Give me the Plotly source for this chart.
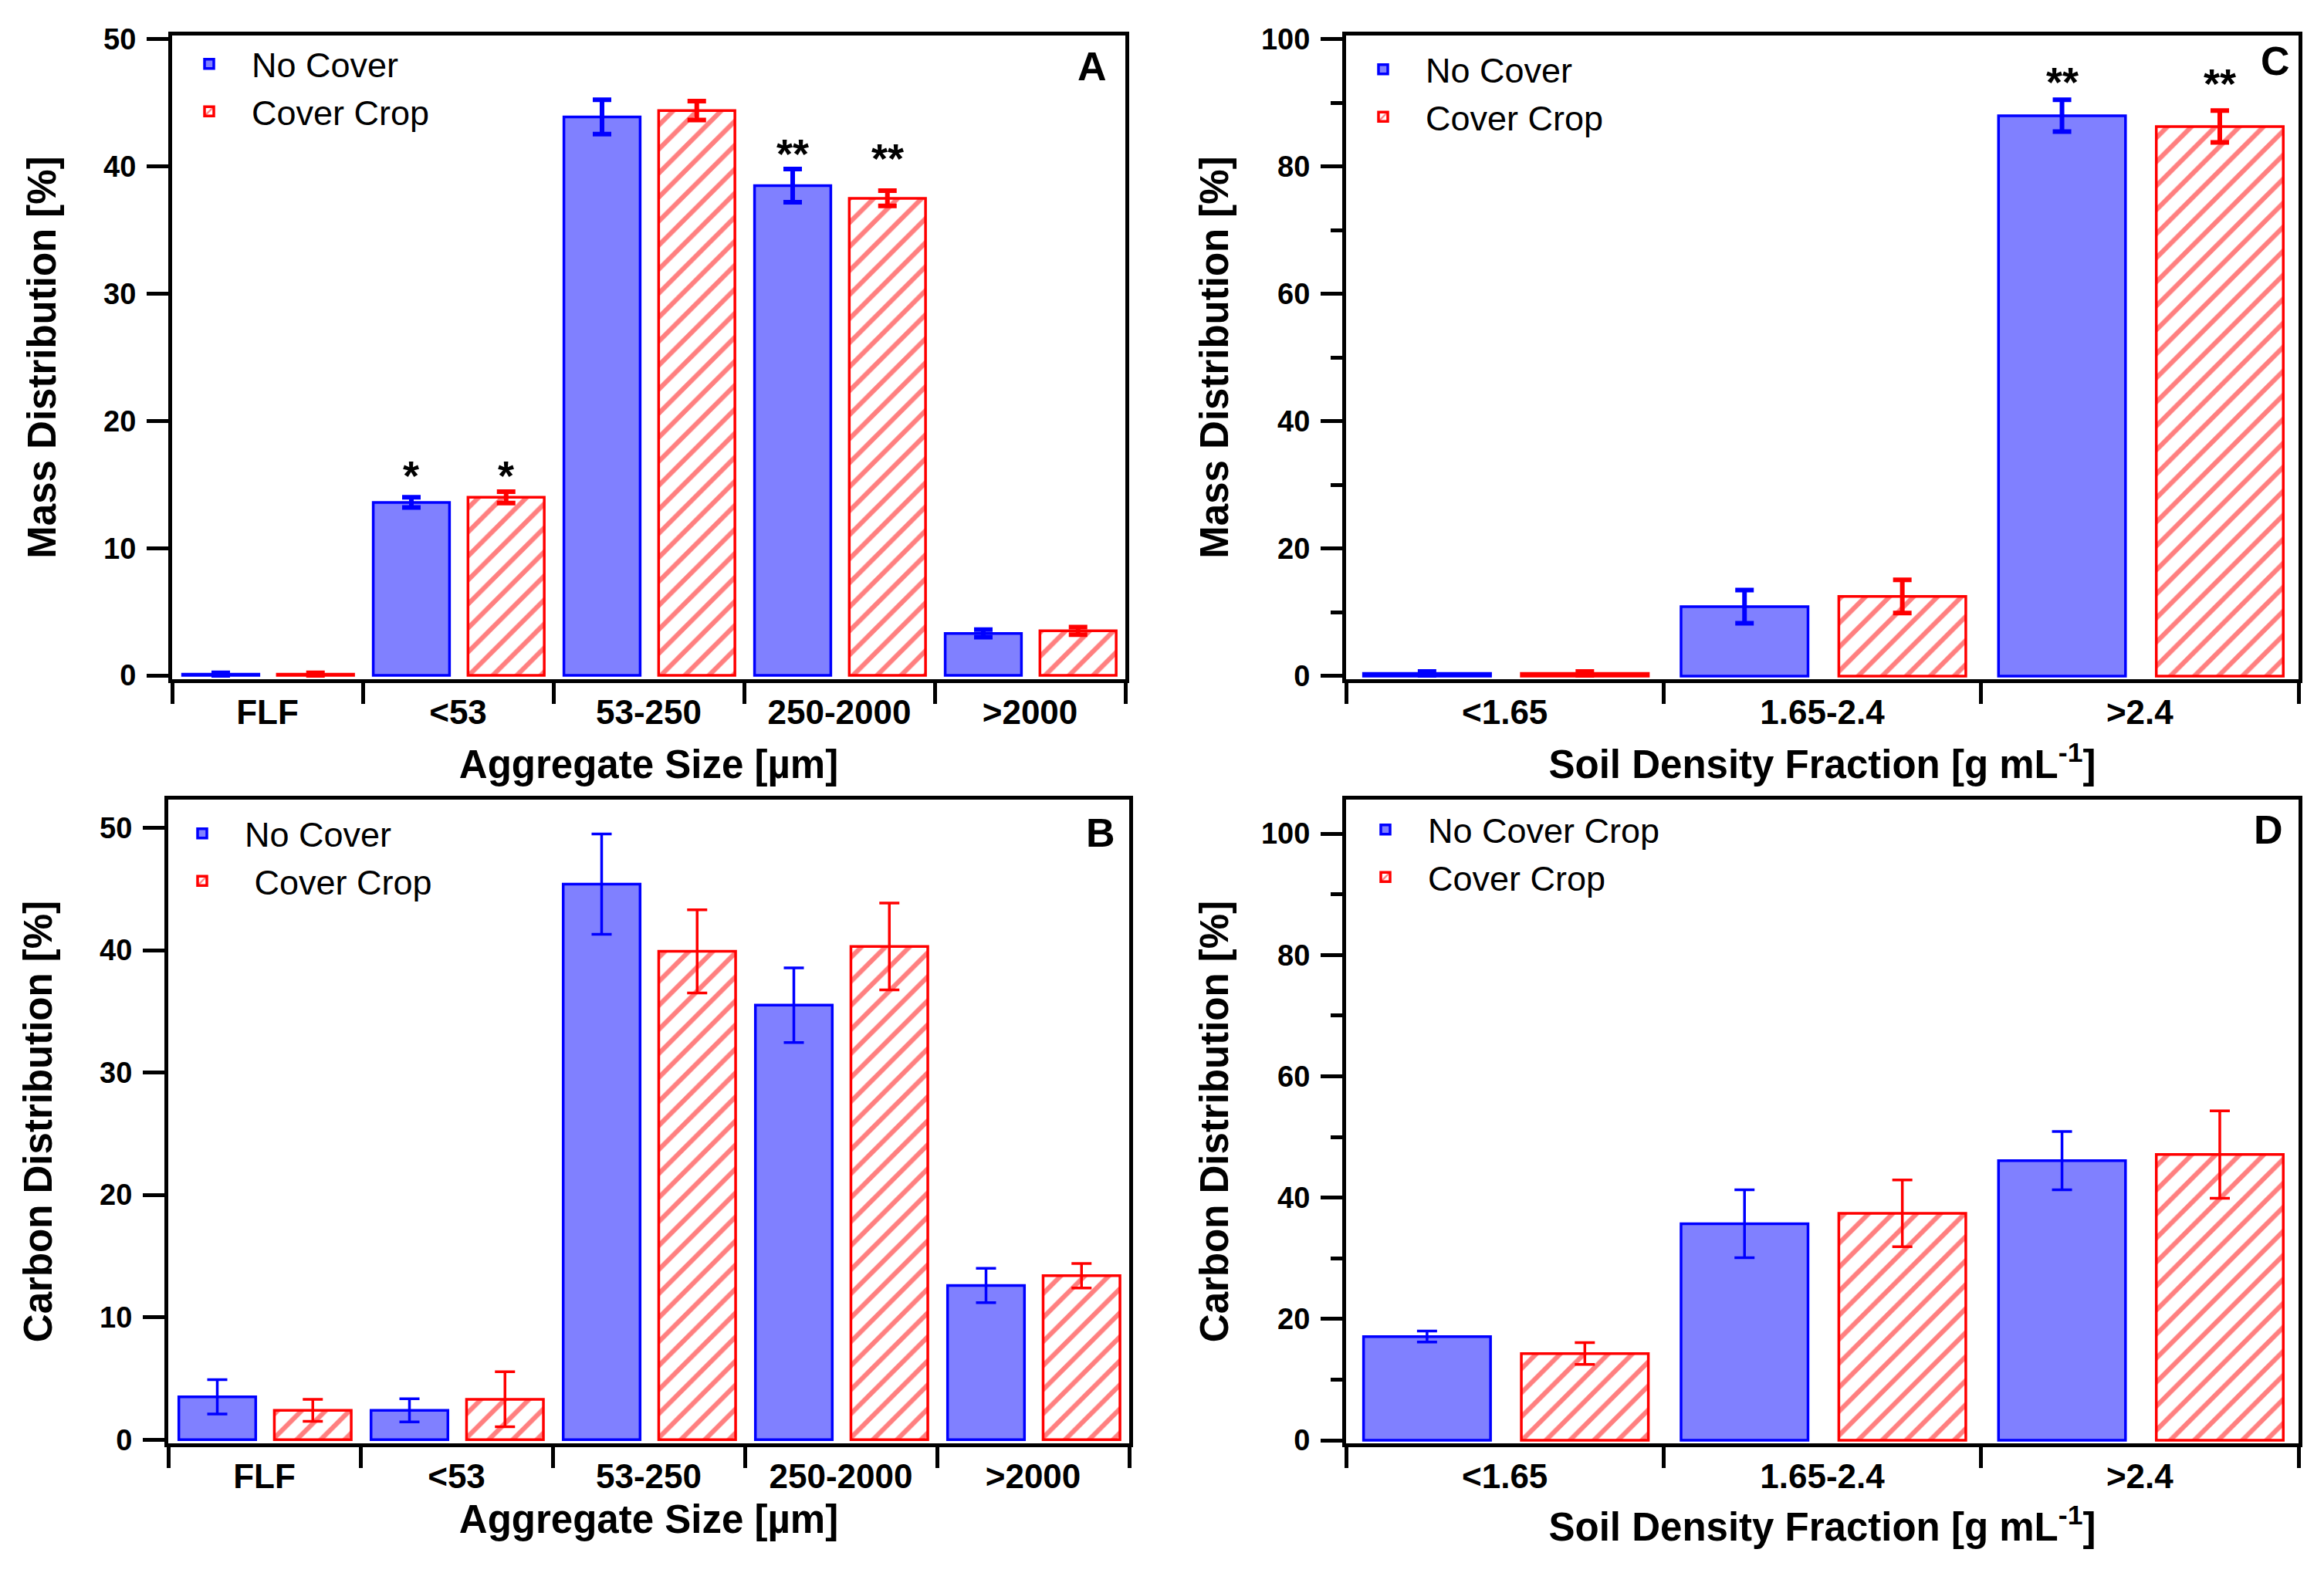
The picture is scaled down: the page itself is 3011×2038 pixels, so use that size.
import plotly.graph_objects as go

# ---------------- data ----------------
agg_sizes = ["FLF", "<53", "53-250", "250-2000", ">2000"]
density_fr = ["<1.65", "1.65-2.4", ">2.4"]

# Panel A: mass distribution by aggregate size [%]
mass_agg_nc = [0.1, 13.6, 43.9, 38.5, 3.3]
mass_agg_nc_err = [0.1, 0.4, 1.35, 1.3, 0.3]
mass_agg_cc = [0.1, 14.0, 44.4, 37.5, 3.5]
mass_agg_cc_err = [0.1, 0.45, 0.75, 0.6, 0.3]

# Panel B: carbon distribution by aggregate size [%]
carb_agg_nc = [3.5, 2.4, 45.4, 35.5, 12.6]
carb_agg_nc_err = [1.4, 0.95, 4.1, 3.05, 1.4]
carb_agg_cc = [2.4, 3.3, 39.9, 40.3, 13.4]
carb_agg_cc_err = [0.9, 2.25, 3.4, 3.55, 1.0]

# Panel C: mass distribution by soil density fraction [%]
mass_den_nc = [0.4, 10.9, 88.0]
mass_den_nc_err = [0.3, 2.6, 2.5]
mass_den_cc = [0.4, 12.5, 86.3]
mass_den_cc_err = [0.3, 2.6, 2.5]

# Panel D: carbon distribution by soil density fraction [%]
carb_den_nc = [17.1, 35.7, 46.1]
carb_den_nc_err = [0.9, 5.6, 4.8]
carb_den_cc = [14.3, 37.4, 47.1]
carb_den_cc_err = [1.8, 5.5, 7.2]

# significance markers: (category, series, label, y)
sig_A = [("<53", "nc", "*", 16.1), ("<53", "cc", "*", 16.1),
         ("250-2000", "nc", "**", 41.4), ("250-2000", "cc", "**", 41.0)]
sig_C = [(">2.4", "nc", "**", 94.1), (">2.4", "cc", "**", 93.8)]

# ---------------- style ----------------
BLUE_FILL = "#8080FF"
BLUE = "#0000FF"
RED = "#FF0000"
FONT = "Liberation Sans, Arial, sans-serif"
OFF_NC, OFF_CC, BAR_W = -0.445, 0.052, 0.40

fig = go.Figure()


def add_pair(cats, nc, nc_err, cc, cc_err, xa, ya, legend, names, thick, capw):
    fig.add_trace(go.Bar(
        x=cats, y=nc, name=names[0], xaxis=xa, yaxis=ya, legend=legend,
        offset=OFF_NC, width=BAR_W,
        marker=dict(color=BLUE_FILL, line=dict(color=BLUE, width=3.5)),
        error_y=dict(type="data", array=nc_err, visible=True, color=BLUE,
                     thickness=thick, width=capw),
    ))
    fig.add_trace(go.Bar(
        x=cats, y=cc, name=names[1], xaxis=xa, yaxis=ya, legend=legend,
        offset=OFF_CC, width=BAR_W,
        marker=dict(color="white", line=dict(color=RED, width=3.5),
                    pattern=dict(shape="/", fgcolor=RED, bgcolor="white",
                                 size=22, solidity=0.28)),
        error_y=dict(type="data", array=cc_err, visible=True, color=RED,
                     thickness=thick, width=capw),
    ))


add_pair(agg_sizes, mass_agg_nc, mass_agg_nc_err, mass_agg_cc, mass_agg_cc_err,
         "x", "y", "legend", ["No Cover", "Cover Crop"], 6, 12)
add_pair(density_fr, mass_den_nc, mass_den_nc_err, mass_den_cc, mass_den_cc_err,
         "x2", "y2", "legend2", ["No Cover", "Cover Crop"], 6, 12)
add_pair(agg_sizes, carb_agg_nc, carb_agg_nc_err, carb_agg_cc, carb_agg_cc_err,
         "x3", "y3", "legend3", ["No Cover", "\u00a0Cover Crop"], 3.5, 13)
add_pair(density_fr, carb_den_nc, carb_den_nc_err, carb_den_cc, carb_den_cc_err,
         "x4", "y4", "legend4", ["No Cover Crop", "Cover Crop"], 3.5, 13)

# page is 3011x2038; the html body adds an 8 px margin, so the figure is
# made 8 px smaller and all page positions are converted to figure positions
PAGE_W, PAGE_H, BODY = 3011, 2038, 8
W, H = PAGE_W - BODY, PAGE_H - BODY


def px_x(p):
    return (p - BODY) / W


def px_y(p):
    return 1 - (p - BODY) / H


def dom_x(a, b):
    return [px_x(a), px_x(b)]


def dom_y(top, bottom):
    return [px_y(bottom), px_y(top)]


def xaxis_cfg(domain, anchor, cats, title, standoff):
    return dict(
        domain=domain, anchor=anchor, type="category",
        categoryorder="array", categoryarray=cats,
        range=[-0.5, len(cats) - 0.5], tickson="boundaries",
        ticks="outside", ticklen=27, tickwidth=5, tickcolor="black",
        showline=True, linewidth=5, linecolor="black", mirror=True,
        showgrid=False, zeroline=False, automargin=False,
        tickfont=dict(family=FONT, size=44, color="black", weight="bold"),
        title=dict(text=title, standoff=standoff,
                   font=dict(family=FONT, size=51, color="black", weight="bold")),
    )


def yaxis_cfg(domain, anchor, rng, dtick, title, standoff, minor):
    cfg = dict(
        domain=domain, anchor=anchor, range=rng, tick0=0, dtick=dtick,
        ticks="outside", ticklen=28, tickwidth=5, tickcolor="black",
        showline=True, linewidth=5, linecolor="black", mirror=True,
        showgrid=False, zeroline=False, automargin=False,
        ticklabelstandoff=6,
        tickfont=dict(family=FONT, size=38, color="black", weight="bold"),
        title=dict(text=title, standoff=standoff,
                   font=dict(family=FONT, size=51, color="black", weight="bold")),
    )
    if minor:
        cfg["minor"] = dict(dtick=minor, ticks="outside", ticklen=15,
                            tickwidth=5, tickcolor="black", showgrid=False)
    return cfg


size_title = "Aggregate Size [µm]"
dens_title = "Soil Density Fraction [g mL<sup>-1</sup>]"

fig.update_layout(
    xaxis=xaxis_cfg(dom_x(223, 1458), "y", agg_sizes, size_title, 28),
    yaxis=yaxis_cfg(dom_y(46, 880), "x", [-0.3, 50.3], 10,
                    "Mass Distribution [%]", 47, None),
    xaxis2=xaxis_cfg(dom_x(1744, 2978), "y2", density_fr, dens_title, 28),
    yaxis2=yaxis_cfg(dom_y(46, 880), "x2", [-0.5, 100.6], 20,
                     "Mass Distribution [%]", 28, 10),
    xaxis3=xaxis_cfg(dom_x(218, 1463), "y3", agg_sizes, size_title, 16),
    yaxis3=yaxis_cfg(dom_y(1036, 1870), "x3", [-0.3, 52.3], 10,
                     "Carbon Distribution [%]", 47, None),
    xaxis4=xaxis_cfg(dom_x(1744, 2978), "y4", density_fr, dens_title, 26),
    yaxis4=yaxis_cfg(dom_y(1036, 1870), "x4", [-0.5, 105.6], 20,
                     "Carbon Distribution [%]", 28, 10),
)

leg_common = dict(bgcolor="rgba(0,0,0,0)", borderwidth=0, itemwidth=100,
                  xanchor="left", yanchor="top", tracegroupgap=0,
                  font=dict(family=FONT, size=45, color="black"))
fig.update_layout(
    legend=dict(x=px_x(216), y=px_y(47), **leg_common),
    legend2=dict(x=px_x(1737), y=px_y(54), **leg_common),
    legend3=dict(x=px_x(207), y=px_y(1044), **leg_common),
    legend4=dict(x=px_x(1740), y=px_y(1039), **leg_common),
)

# panel letters
letters = [("A", "x", "y", 0.965, 0.952), ("C", "x2", "y2", 0.976, 0.960),
           ("B", "x3", "y3", 0.970, 0.948), ("D", "x4", "y4", 0.968, 0.953)]
for txt, xa, ya, px, py in letters:
    fig.add_annotation(text=txt, xref=f"{xa} domain", yref=f"{ya} domain",
                       x=px, y=py, showarrow=False, xanchor="center",
                       yanchor="middle",
                       font=dict(family=FONT, size=52, color="black", weight="bold"))


# significance asterisks
def add_sig(sigs, cats, xa, ya):
    for cat, series, label, yv in sigs:
        idx = cats.index(cat)
        off = OFF_NC if series == "nc" else OFF_CC
        fig.add_annotation(text=label, x=idx + off + BAR_W / 2, y=yv,
                           xref=xa, yref=ya, showarrow=False,
                           xanchor="center", yanchor="middle", yshift=-6,
                           font=dict(family=FONT, size=54, color="black",
                                     weight="bold"))


add_sig(sig_A, agg_sizes, "x", "y")
add_sig(sig_C, density_fr, "x2", "y2")

fig.update_layout(
    width=W, height=H, margin=dict(l=0, r=0, t=0, b=0, autoexpand=False),
    paper_bgcolor="white", plot_bgcolor="white", barmode="overlay",
    showlegend=True,
)

fig.write_html("out.html")
